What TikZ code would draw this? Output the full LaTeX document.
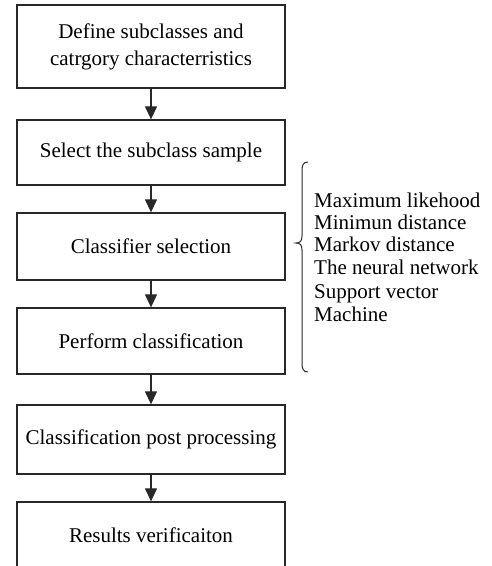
\documentclass[tikz,border=0pt]{standalone}
\usepackage{fontspec}
\setmainfont{Liberation Serif}
\usetikzlibrary{arrows.meta}
\definecolor{frame}{RGB}{40, 40, 40}

\begin{document}
\begin{tikzpicture}[x=1pt, y=1pt, font=\fontsize{21}{27}\selectfont,
    stepbox/.style={draw=frame, line width=1.3pt, minimum width=268pt, inner sep=0pt, align=center},
    flow/.style={-{Triangle[length=13pt, width=12pt]}, line width=1.3pt, draw=frame}]
      \useasboundingbox (0,0) rectangle (491,566);
      \clip (0,0) rectangle (491,566);

      % Steps
      \node[stepbox, minimum height=83pt] (define) at (151,519.5) {Define subclasses and\\catrgory characterristics};
      \node[stepbox, minimum height=65pt] (sample) at (151,413.5) {Select the subclass sample};
      \node[stepbox, minimum height=67pt] (select) at (151,319.5) {Classifier selection};
      \node[stepbox, minimum height=66pt] (perform) at (151,225) {Perform classification};
      \node[stepbox, minimum height=69pt] (post) at (151,126.5) {Classification post processing};
      \node[stepbox, minimum height=66pt] (verify) at (151,31) {Results verificaiton};

      % Arrows
      \draw[flow] (define) -- (sample);
      \draw[flow] (sample) -- (select);
      \draw[flow] (select) -- (perform);
      \draw[flow] (perform) -- (post);
      \draw[flow] (post) -- (verify);

      % Brace
      \draw[line width=1pt, frame] (308,404) .. controls (303.5,404) and (302,401) .. (302,396) -- (302,330)
        .. controls (302,325) and (300,323) .. (296,323) .. controls (300,323) and (302,321) .. (302,316)
        -- (302,202) .. controls (302,197) and (303.5,194) .. (308,194);

      % Methods
      \node[anchor=north west, inner sep=0pt, align=left, font=\fontsize{21}{22.3}\selectfont] (methods) at (314,373.5)
        {Maximum likehood\\Minimun distance\\Markov distance\\The neural network\\[2pt]Support vector\\[1pt]Machine};
    \end{tikzpicture}
\end{document}
